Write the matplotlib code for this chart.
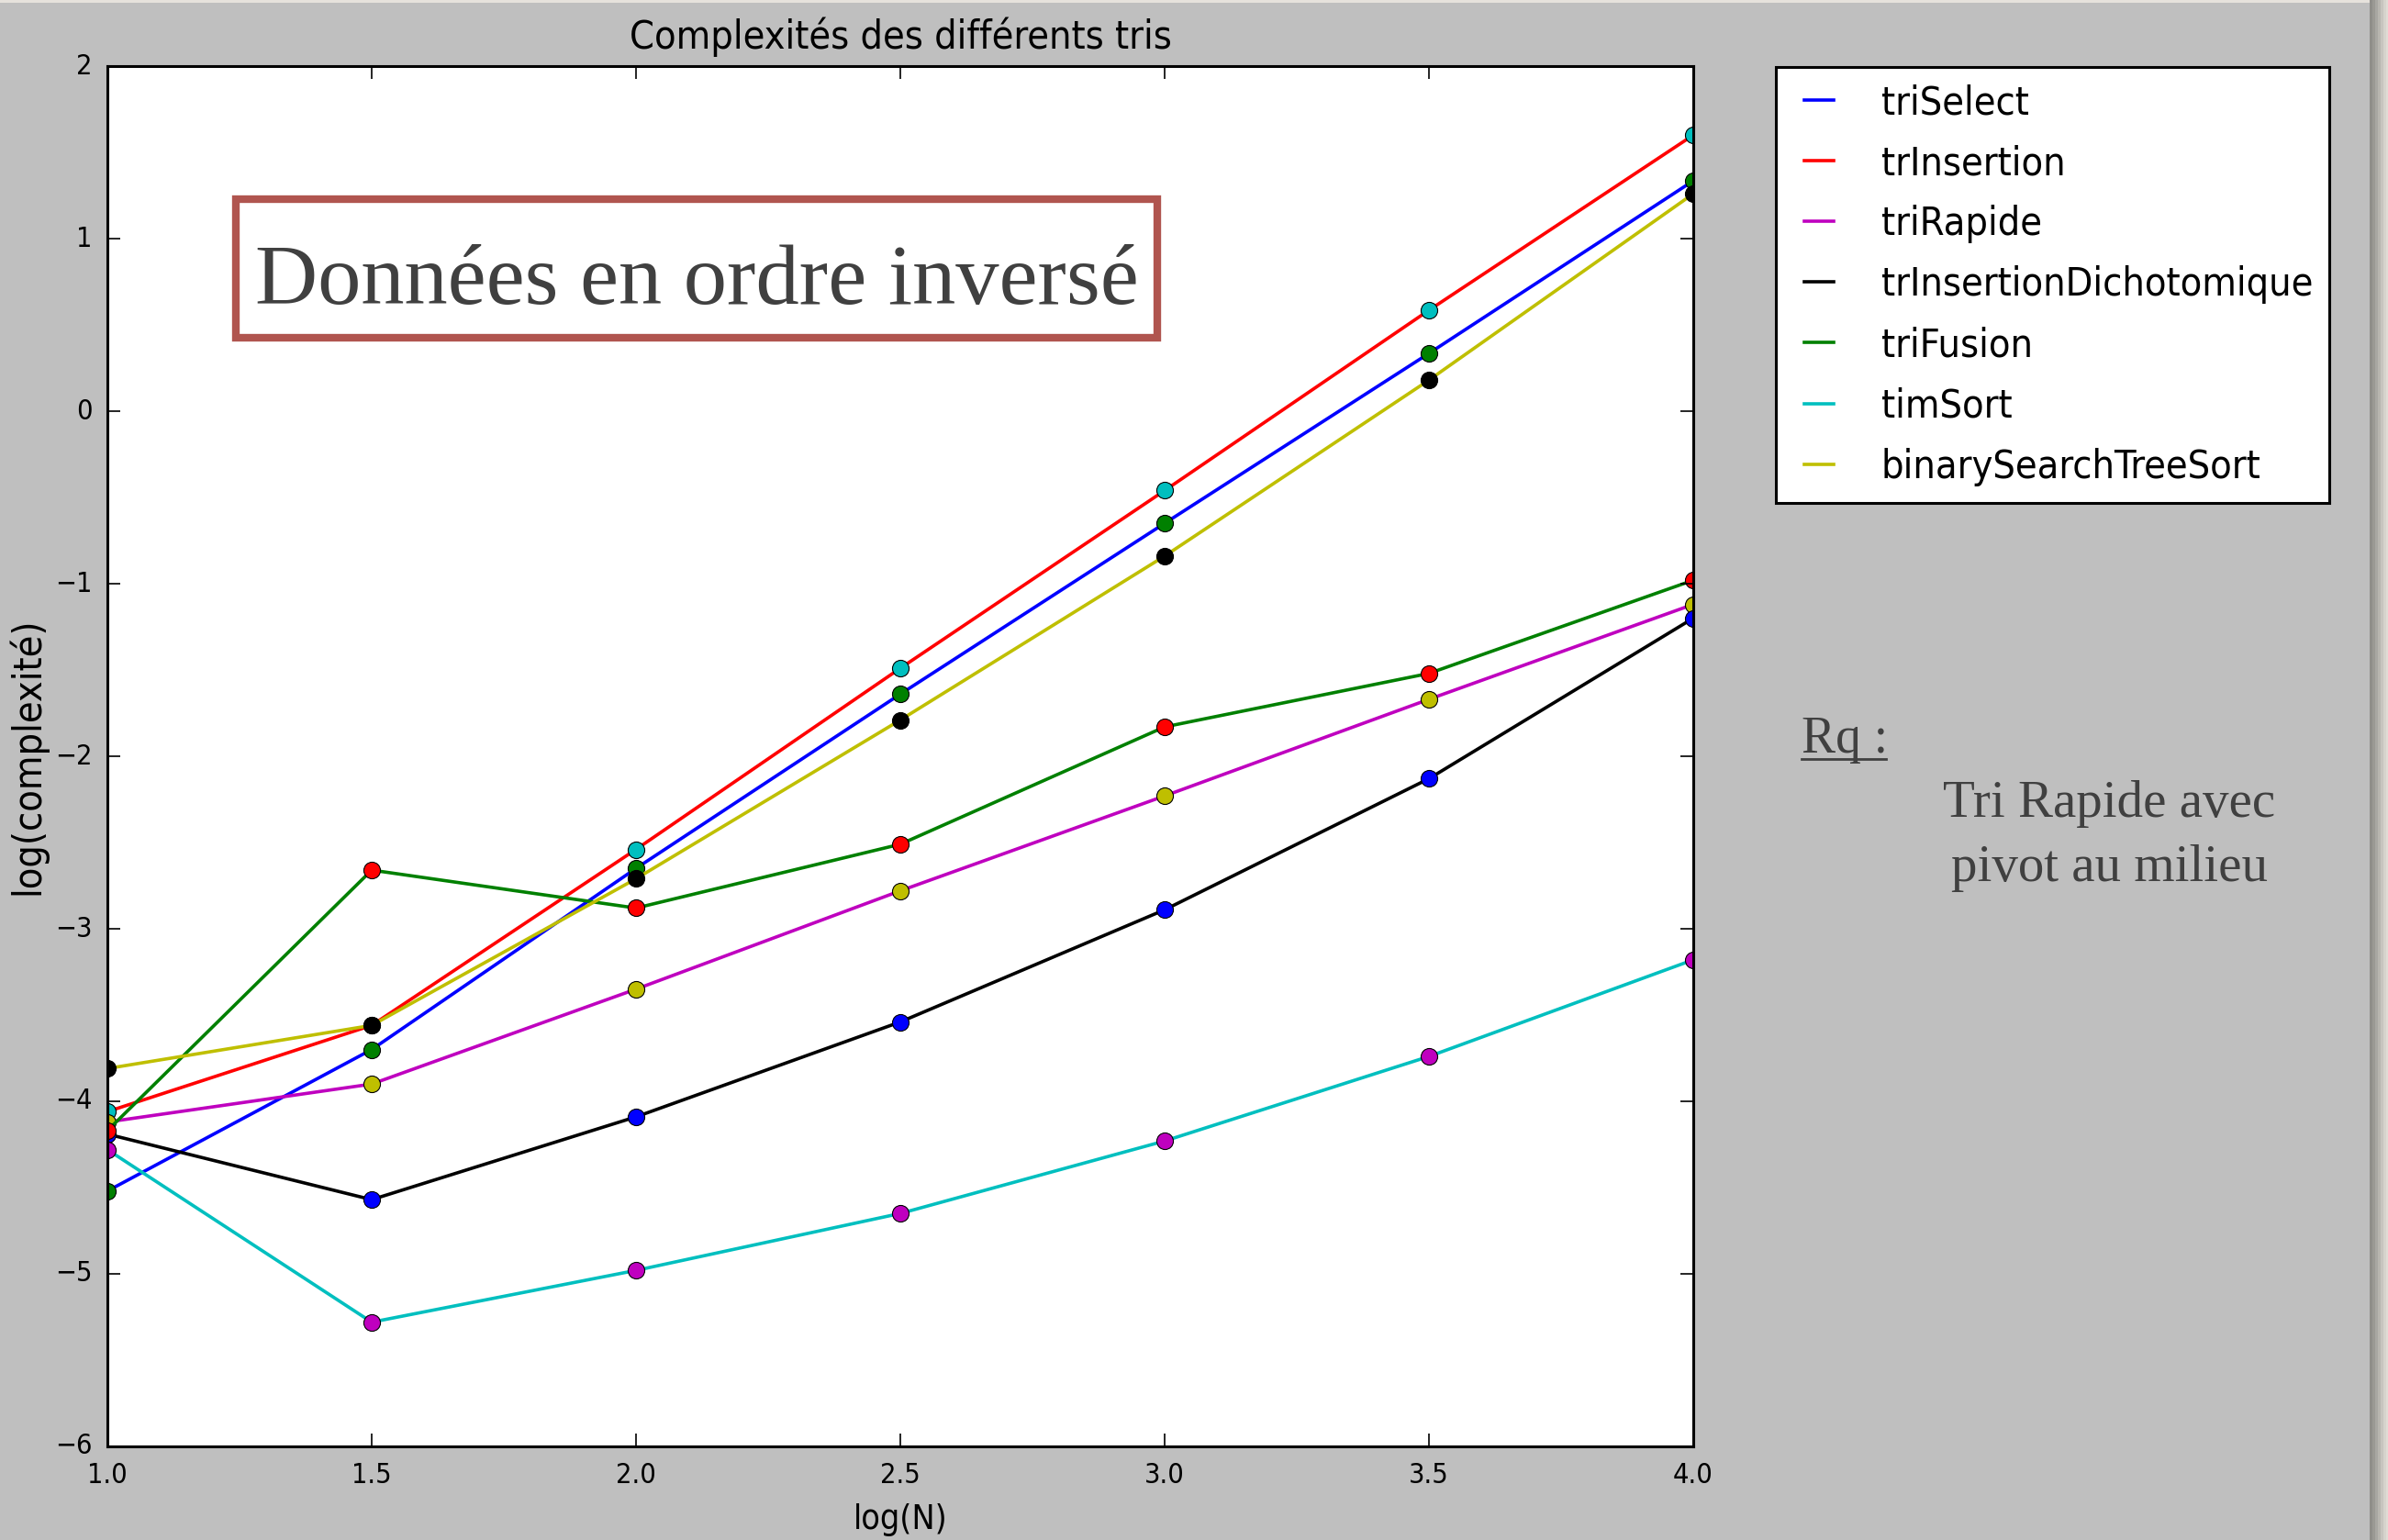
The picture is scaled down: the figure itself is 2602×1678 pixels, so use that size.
import matplotlib
matplotlib.use("Agg")
import matplotlib.pyplot as plt
from matplotlib.patches import Rectangle
from matplotlib.lines import Line2D

logN = [1.0, 1.5, 2.0, 2.5, 3.0, 3.5, 4.0]

triSelect = [-4.52, -3.70, -2.65, -1.64, -0.65, 0.335, 1.335]
trInsertion = [-4.06, -3.56, -2.54, -1.49, -0.46, 0.585, 1.60]
triRapide = [-4.12, -3.90, -3.35, -2.78, -2.23, -1.67, -1.12]
trInsertionDichotomique = [-4.19, -4.57, -4.09, -3.54, -2.89, -2.13, -1.20]
triFusion = [-4.17, -2.66, -2.88, -2.51, -1.83, -1.52, -0.98]
timSort = [-4.28, -5.28, -4.98, -4.65, -4.23, -3.74, -3.18]
binarySearchTreeSort = [-3.81, -3.56, -2.71, -1.79, -0.84, 0.18, 1.26]

names = ["triSelect", "trInsertion", "triRapide", "trInsertionDichotomique",
         "triFusion", "timSort", "binarySearchTreeSort"]
series = [triSelect, trInsertion, triRapide, trInsertionDichotomique,
          triFusion, timSort, binarySearchTreeSort]

plt.style.use("classic")
sans = dict(family="DejaVu Sans", stretch="condensed")
serif = "Liberation Serif"

fig = plt.figure(figsize=(26.02, 16.78), dpi=100, facecolor="#bfbfbf")
ax = fig.add_axes([117 / 2602, 1 - 1576 / 1678, (1845 - 117) / 2602, (1576 - 72) / 1678])

# each sort: a line, then its points in the next colour of the cycle
cycle = ["b", "g", "r", "c", "m", "y", "k"]
k = 0
for name, y in zip(names, series):
    ax.plot(logN, y, color=cycle[k % 7], lw=2.6, label=name)
    k += 1
    ax.plot(logN, y, "o", color=cycle[k % 7], ms=13, mec="k", mew=0.8)
    k += 1

ax.set_xlim(1.0, 4.0)
ax.set_ylim(-6, 2)
ax.set_xticks(logN)
ax.set_yticks(range(-6, 3))
ax.tick_params(direction="in", length=10, width=1.2, labelsize=22, pad=12,
               top=True, right=True)
for lab in ax.get_xticklabels() + ax.get_yticklabels():
    lab.set_fontstretch("condensed")
for s in ax.spines.values():
    s.set_linewidth(2.2)

ax.set_title("Complexités des différents tris", fontsize=31, pad=14, **sans)
ax.set_xlabel("log(N)", fontsize=27, labelpad=12, **sans)
ax.set_ylabel("log(complexité)", fontsize=31, labelpad=6, **sans)

leg = fig.legend(loc="upper left", bbox_to_anchor=(1935 / 2602, 1 - 73 / 1678),
                 borderaxespad=0, prop=dict(size=31, **sans), handlelength=1.35,
                 handletextpad=0.9, labelspacing=0.56, borderpad=0.42,
                 fancybox=False, framealpha=1)
leg.get_frame().set_linewidth(2.2)
leg.get_frame().set_edgecolor("k")

# framed note over the plot
fig.patches.append(Rectangle((257 / 2602, 1 - 368 / 1678), 1004 / 2602, 151 / 1678,
                             transform=fig.transFigure, fc="white", ec="#b0554f",
                             lw=6, zorder=5))
fig.text(759 / 2602, 1 - 309 / 1678, "Données en ordre inversé", family=serif,
         fontsize=68, color="#404040", ha="center", va="center", zorder=6)

fig.text(1963 / 2602, 1 - 806 / 1678, "Rq :", family=serif, fontsize=40,
         color="#404040", ha="left", va="center")
fig.add_artist(Line2D([1963 / 2602, 2055 / 2602], [1 - 827 / 1678, 1 - 827 / 1678],
                      transform=fig.transFigure, color="#404040", lw=2))
fig.text(2298 / 2602, 1 - 876 / 1678, "Tri Rapide avec", family=serif,
         fontsize=41, color="#404040", ha="center", va="center")
fig.text(2298 / 2602, 1 - 946 / 1678, "pivot au milieu", family=serif,
         fontsize=41, color="#404040", ha="center", va="center")

# slide edge: light strip on top, shadow on the right
fig.patches.append(Rectangle((0, 1 - 3 / 1678), 1, 3 / 1678, transform=fig.transFigure,
                             fc="#e6e2dc", ec="none"))
shade = ["#8f8e8a", "#9a9994", "#a8a7a2", "#b8b6b0", "#c8c5bf", "#d6d3cc", "#e0dcd5"]
for i, c in enumerate(shade):
    fig.patches.append(Rectangle(((2582 + 3 * i) / 2602, 0), 3.2 / 2602, 1,
                                 transform=fig.transFigure, fc=c, ec="none"))

fig.savefig("out.png", dpi=100, facecolor=fig.get_facecolor())
